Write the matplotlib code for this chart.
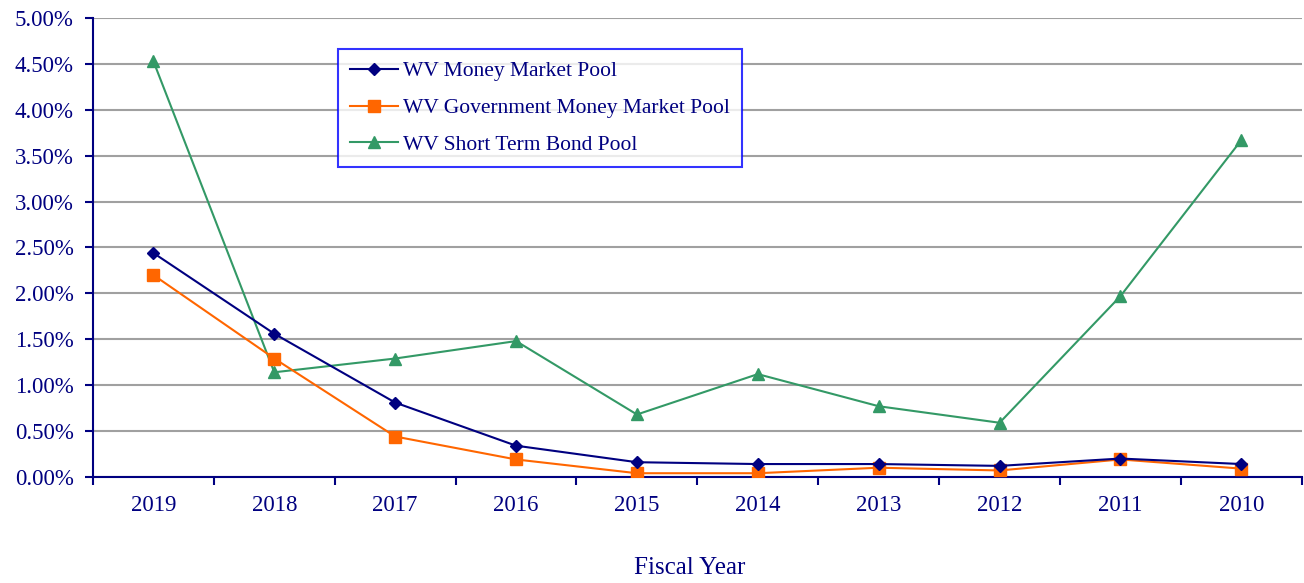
import matplotlib.pyplot as plt
from matplotlib.ticker import FuncFormatter, FixedLocator, NullFormatter

plt.rcParams['font.family'] = ['Liberation Serif', 'DejaVu Serif']

years = ['2019', '2018', '2017', '2016', '2015', '2014', '2013', '2012', '2011', '2010']
money_market = [2.44, 1.56, 0.81, 0.34, 0.16, 0.14, 0.14, 0.12, 0.20, 0.14]
gov_money_market = [2.20, 1.29, 0.44, 0.19, 0.04, 0.04, 0.10, 0.07, 0.19, 0.09]
short_term_bond = [4.53, 1.14, 1.29, 1.48, 0.68, 1.12, 0.77, 0.59, 1.97, 3.67]

navy = '#000080'

fig = plt.figure(figsize=(13.04, 5.83), dpi=100)
ax = fig.add_axes([0.0713, 0.182, 0.927, 0.787])

x = list(range(len(years)))
ax.plot(x, money_market, color=navy, marker='D', markersize=6.5, lw=1.5,
        label='WV Money Market Pool', zorder=4)
ax.plot(x, gov_money_market, color='#FF6600', marker='s', markersize=8.5, lw=1.5,
        label='WV Government Money Market Pool', zorder=3)
ax.plot(x, short_term_bond, color='#339966', marker='^', markersize=8.5, lw=1.5,
        label='WV Short Term Bond Pool', zorder=2)

ax.set_xlim(-0.5, len(years) - 0.5)
ax.set_ylim(0, 5)
ax.set_yticks([i * 0.5 for i in range(11)])
ax.yaxis.set_major_formatter(FuncFormatter(lambda v, p: f'{v:.2f}%'))
ax.grid(axis='y', color='#A0A0A0', lw=1.5, zorder=0)
ax.set_axisbelow(True)

# category labels centred, tick marks on boundaries
ax.set_xticks(x)
ax.set_xticklabels(years)
ax.tick_params(axis='x', which='major', length=0, pad=13)
ax.xaxis.set_minor_locator(FixedLocator([i - 0.5 for i in range(len(years) + 1)]))
ax.xaxis.set_minor_formatter(NullFormatter())
ax.tick_params(axis='x', which='minor', length=6, width=1.5, color=navy, direction='out')
ax.tick_params(axis='y', length=6, width=1.5, color=navy, direction='out', pad=8)
ax.tick_params(labelsize=16.5, labelcolor=navy)

for s in ['top', 'right']:
    ax.spines[s].set_visible(False)
for s in ['left', 'bottom']:
    ax.spines[s].set_color(navy)
    ax.spines[s].set_linewidth(1.5)

ax.set_xlabel('Fiscal Year', fontsize=18, color=navy)
ax.xaxis.set_label_coords(0.494, -0.175)

leg = ax.legend(loc='upper left', bbox_to_anchor=(0.203, 0.932), fontsize=15.5,
                frameon=True, fancybox=False, labelspacing=0.78, handlelength=2.2,
                borderpad=0.55, handletextpad=0.25, borderaxespad=0)
leg.get_frame().set_edgecolor('#0000FF')
leg.get_frame().set_linewidth(1.5)
for t in leg.get_texts():
    t.set_color(navy)

fig.savefig('out.png', dpi=100)
